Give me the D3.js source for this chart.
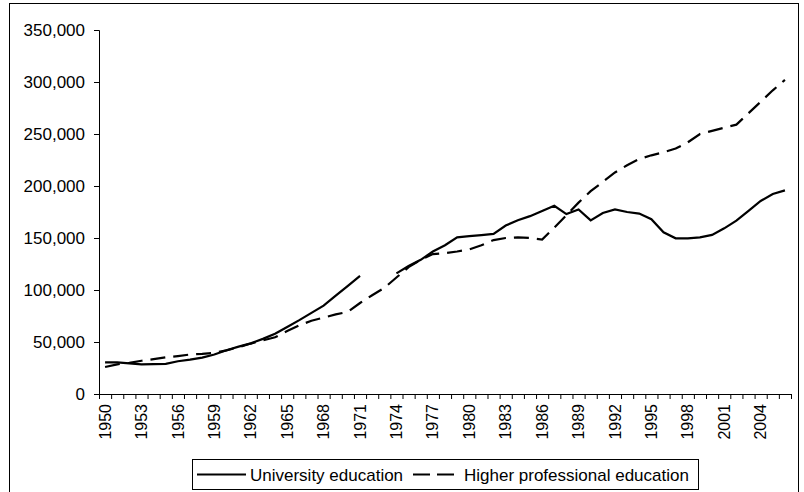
<!DOCTYPE html>
<html>
<head>
<meta charset="utf-8">
<script src="https://cdn.jsdelivr.net/npm/d3@7"></script>
<style>
html,body{margin:0;padding:0;background:#fff;}
svg{display:block;font-family:"Liberation Sans",Arial,sans-serif;}
</style>
</head>
<body>
<svg id="chart" width="804" height="492"></svg>
<script>
const years = d3.range(1950, 2007);
const university = [30.5,30.5,29.5,28.5,28.8,29,31.5,33,35,38,
  42,45.5,48.7,53,58,64.5,71,78,85,94.5,
  104,113.5,null,null,116,123,129,137,143,150.6,
  151.8,152.8,154,162,167,171,176,181,173,177.5,
  167,174,177.5,175,173.5,168,155.5,149.7,149.7,150.6,
  153,159.3,166.7,176,185.6,192.3,195.8].map(v => v == null ? null : v * 1000);
const higherProfessional = [26,28.5,30,32,33.5,35.2,36.5,38,38.5,39.5,
  42,45,48.5,51.5,54.5,60.5,66,70.5,73.5,76.5,
  79,87.5,95,102,112,122,129,134.5,135.5,137,
  139,143,148,150,150.6,150,148.5,160,172,184,
  195,204,213,220,226,229.5,232.5,236,242,250,
  253,256,259,270,281,292,302].map(v => v * 1000);
const yTicks = [0,50000,100000,150000,200000,250000,300000,350000];
const labelYears = years.filter((yr,i) => i % 3 === 0 && yr <= 2004);
const seriesNames = ["University education", "Higher professional education"];

const svg = d3.select("#chart");
const mLeft = 99, mRight = 791, mTop = 30, mBottom = 394;
const FONT = "Liberation Sans, Arial, sans-serif";

// outer border
svg.append("rect").attr("x", 9.5).attr("y", 3.5).attr("width", 789).attr("height", 500)
  .attr("fill", "none").attr("stroke", "#000").attr("stroke-width", 1);

const x = d3.scaleBand().domain(years).range([mLeft, mRight]).paddingInner(0).paddingOuter(0);
const xIdx = d3.scaleLinear().domain([0, years.length]).range([mLeft, mRight]);
const y = d3.scaleLinear().domain([0, 350000]).range([mBottom, mTop]);

// y axis
const yAxis = d3.axisLeft(y).tickValues(yTicks).tickSize(5).tickPadding(9)
  .tickFormat(d3.format(","));
const gy = svg.append("g").attr("transform", `translate(${mLeft},0)`).call(yAxis);
gy.select(".domain").attr("stroke", "#000").attr("d", `M-5,${y(350000)+0.5}H0.5V${mBottom}`);
gy.selectAll("text").attr("font-size", 17).attr("fill", "#000").attr("font-family", FONT);

// x axis boundary ticks
const xAxisTicks = d3.axisBottom(xIdx).tickValues(d3.range(0, years.length + 1)).tickSize(5).tickFormat("");
const gx = svg.append("g").attr("transform", `translate(0,${mBottom})`).call(xAxisTicks);
gx.select(".domain").attr("stroke", "#000").attr("d", `M${mLeft},0.5H${mRight}`);

// x labels
const xLabels = d3.axisBottom(x).tickValues(labelYears).tickSize(0).tickPadding(0);
const gl = svg.append("g").attr("transform", `translate(0,${mBottom})`).call(xLabels);
gl.select(".domain").remove();
gl.selectAll("text")
  .attr("font-size", 16).attr("fill", "#000").attr("font-family", FONT)
  .attr("transform", "rotate(-90)")
  .attr("text-anchor", "end")
  .attr("x", -10).attr("y", 0).attr("dy", "0.35em");

// lines
const line = d3.line()
  .defined(d => d.v != null)
  .x(d => x(d.yr) + x.bandwidth() / 2)
  .y(d => y(d.v));

const uniData = years.map((yr, i) => ({yr, v: university[i]}));
const hpData = years.map((yr, i) => ({yr, v: higherProfessional[i]}));

svg.append("path").datum(hpData).attr("d", line)
  .attr("fill", "none").attr("stroke", "#000").attr("stroke-width", 2.2)
  .attr("stroke-dasharray", "15,8");
svg.append("path").datum(uniData).attr("d", line)
  .attr("fill", "none").attr("stroke", "#000").attr("stroke-width", 2.2);

// legend
const lg = svg.append("g");
lg.append("rect").attr("x", 192.5).attr("y", 459.5).attr("width", 506).attr("height", 30)
  .attr("fill", "#fff").attr("stroke", "#000");
lg.append("line").attr("x1", 197).attr("x2", 246).attr("y1", 474.5).attr("y2", 474.5)
  .attr("stroke", "#000").attr("stroke-width", 2.2);
lg.append("text").attr("x", 250).attr("y", 480.5).attr("font-size", 17).attr("font-family", FONT).text(seriesNames[0]);
lg.append("line").attr("x1", 413).attr("x2", 454).attr("y1", 474.5).attr("y2", 474.5)
  .attr("stroke", "#000").attr("stroke-width", 2.2).attr("stroke-dasharray", "17,7");
lg.append("text").attr("x", 464).attr("y", 480.5).attr("font-size", 17).attr("font-family", FONT).text(seriesNames[1]);
</script>
</body>
</html>
